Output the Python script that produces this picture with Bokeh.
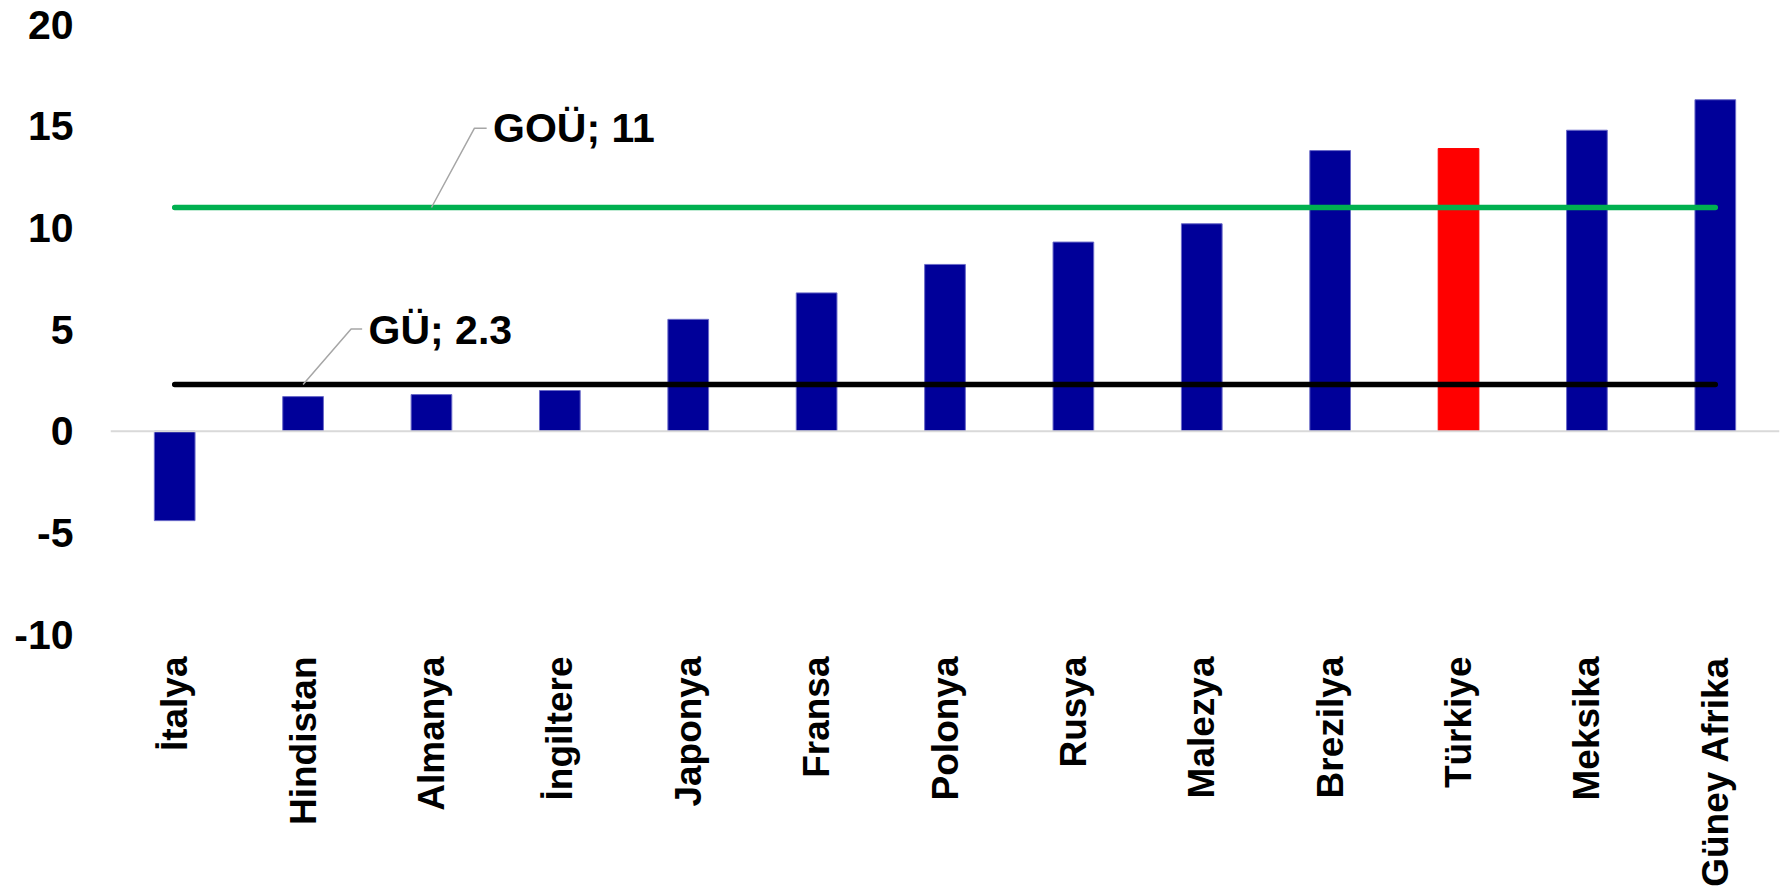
import math
from bokeh.plotting import figure
from bokeh.models import (FactorRange, Range1d, FixedTicker, Span, Label,
                          ColumnDataSource, CustomJSTickFormatter)
from bokeh.embed import file_html
from bokeh.resources import INLINE

# ---- data ----
categories = ["İtalya", "Hindistan", "Almanya", "İngiltere", "Japonya", "Fransa",
              "Polonya", "Rusya", "Malezya", "Brezilya", "Türkiye", "Meksika", "Güney Afrika"]
values = [-4.4, 1.7, 1.8, 2.0, 5.5, 6.8, 8.2, 9.3, 10.2, 13.8, 13.9, 14.8, 16.3]
highlight = "Türkiye"
gou_value = 11
gu_value = 2.3
gou_label = "GOÜ; 11"
gu_label = "GÜ; 2.3"
y_ticks = [-10, -5, 0, 5, 10, 15, 20]
y_min, y_max = -10, 20

# ---- styles ----
BLUE = "#000099"
RED = "#ff0000"
GREEN = "#00b050"
FONT = "Liberation Sans"

bar_colors = [RED if c == highlight else BLUE for c in categories]
bar_lines = [RED if c == highlight else "#6a6ac8" for c in categories]
src = ColumnDataSource(dict(x=categories, top=values, color=bar_colors, lc=bar_lines))

p = figure(
    x_range=FactorRange(*categories, range_padding=0),
    y_range=Range1d(y_min, y_max),
    width=1787, height=893,
    min_border_left=110, min_border_right=8, min_border_top=24, min_border_bottom=259,
    output_backend="svg", toolbar_location=None,
)
p.outline_line_color = None
p.xgrid.grid_line_color = None
p.ygrid.grid_line_color = None
p.background_fill_color = "white"
p.border_fill_color = "white"

p.vbar(x="x", top="top", bottom=0, width=0.317, source=src,
       fill_color="color", line_color="lc", line_width=1)

# zero axis line
p.add_layout(Span(location=0, dimension="width", line_color="#d9d9d9", line_width=2))

# reference lines
p.line(x=categories, y=[gou_value] * len(categories), line_color=GREEN, line_width=5.5, line_cap="round")
p.line(x=categories, y=[gu_value] * len(categories), line_color="black", line_width=5.5, line_cap="round")

# leader lines (synthetic categorical coordinates)
p.line(x=[2.5, 2.835, 2.93], y=[gou_value, gou_value + 3.9, gou_value + 3.9],
       line_color="#a6a6a6", line_width=1.5)
p.line(x=[1.5, 1.874, 1.96], y=[gu_value, gu_value + 2.72, gu_value + 2.72],
       line_color="#a6a6a6", line_width=1.5)

p.add_layout(Label(x=2.98, y=gou_value + 3.9, text=gou_label, text_align="left",
                   text_baseline="alphabetic", text_font=FONT, text_font_size="41px",
                   text_font_style="bold", text_color="black"))
p.add_layout(Label(x=2.01, y=gu_value + 2.7, text=gu_label, text_align="left",
                   text_baseline="alphabetic", text_font=FONT, text_font_size="41px",
                   text_font_style="bold", text_color="black"))

# y axis
yax = p.yaxis[0]
yax.ticker = FixedTicker(ticks=y_ticks)
yax.formatter = CustomJSTickFormatter(code="return tick.toString();")
yax.axis_line_color = None
yax.major_tick_line_color = None
yax.minor_tick_line_color = None
yax.major_tick_out = 0
yax.major_tick_in = 0
yax.major_label_standoff = 37
yax.major_label_text_font = FONT
yax.major_label_text_font_size = "41px"
yax.major_label_text_font_style = "bold"
yax.major_label_text_color = "black"

# x axis
xax = p.xaxis[0]
xax.axis_line_color = None
xax.major_tick_line_color = None
xax.minor_tick_line_color = None
xax.major_tick_out = 0
xax.major_tick_in = 0
xax.major_label_standoff = 22
xax.major_label_orientation = math.pi / 2
xax.major_label_text_font = FONT
xax.major_label_text_font_size = "37px"
xax.major_label_text_font_style = "bold"
xax.major_label_text_color = "black"

open("out.html", "w").write(file_html(p, INLINE))
